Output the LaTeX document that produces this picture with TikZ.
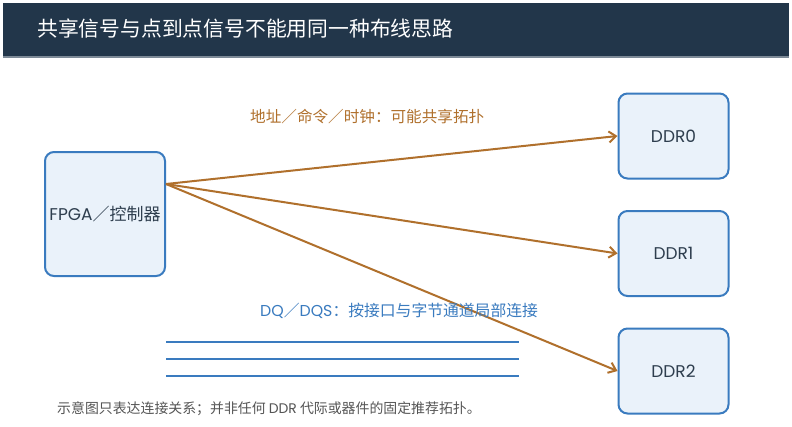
\documentclass[tikz,border=0pt]{standalone}
\usepackage{fontspec}
\setmainfont{Noto Sans CJK SC}
\newfontfamily\lat{Poppins}
\usetikzlibrary{arrows.meta}
\definecolor{navy}{HTML}{22364A}
\definecolor{barline}{HTML}{7D8A97}
\definecolor{boxblue}{HTML}{3A7BBF}
\definecolor{boxfill}{HTML}{EAF2FA}
\definecolor{sigbrown}{HTML}{B0702C}
\definecolor{textdark}{HTML}{2E3E4E}
\definecolor{footgray}{HTML}{555555}
\tikzset{
  box/.style={draw=boxblue, line width=2pt, fill=boxfill, rounded corners=9pt,
    inner sep=0pt, text=textdark, font=\fontsize{17}{20}\selectfont},
  sig/.style={draw=sigbrown, line width=2pt, -{Straight Barb[length=7pt,width=11pt,line width=2pt]}},
  dqline/.style={draw=boxblue, line width=2pt},
}
\begin{document}
\begin{tikzpicture}[x=1pt,y=-1pt]
\useasboundingbox (0,0) rectangle (792,426);
\fill[white] (0,0) rectangle (792,426);
\fill[navy] (3,3) rectangle (789,57);
\draw[barline, line width=1.5pt] (3,57) -- (789,57);
\node[anchor=west, text=white, inner sep=0pt, font=\fontsize{20.8}{24}\selectfont] (title) at (37,29) {共享信号与点到点信号不能用同一种布线思路};

\node[box, minimum width=120pt, minimum height=124pt] (fpga) at (105,214) {{\lat FPGA}／控制器};
\node[box, minimum width=110pt, minimum height=85pt] (ddr0) at (673.5,136) {\lat DDR0};
\node[box, minimum width=110pt, minimum height=85pt] (ddr1) at (673.5,253.5) {\lat DDR1};
\node[box, minimum width=110pt, minimum height=85pt] (ddr2) at (673.5,371) {\lat DDR2};

\coordinate (src) at ([yshift=30pt]fpga.east);
\draw[sig] (src) -- (ddr0.west);
\draw[sig] (src) -- (ddr1.west);
\draw[sig] (src) -- (ddr2.west);

\node[anchor=west, inner sep=0pt, text=sigbrown, font=\fontsize{15.6}{18}\selectfont] (addr) at (250,117) {地址／命令／时钟：可能共享拓扑};
\node[anchor=west, inner sep=0pt, text=boxblue, font=\fontsize{15.8}{18}\selectfont] (dq) at (260,311) {{\lat DQ}／{\lat DQS}：按接口与字节通道局部连接};

\coordinate (l1a) at (166,342); \coordinate (l1b) at (519,342);
\coordinate (l2a) at (166,359); \coordinate (l2b) at (519,359);
\coordinate (l3a) at (166,376); \coordinate (l3b) at (519,376);
\draw[dqline] (l1a) -- (l1b);
\draw[dqline] (l2a) -- (l2b);
\draw[dqline] (l3a) -- (l3b);

\node[anchor=west, inner sep=0pt, text=footgray, font=\fontsize{13.9}{16}\selectfont] (note) at (57,409) {示意图只表达连接关系；并非任何 {\lat DDR} 代际或器件的固定推荐拓扑。};
\end{tikzpicture}
\end{document}
